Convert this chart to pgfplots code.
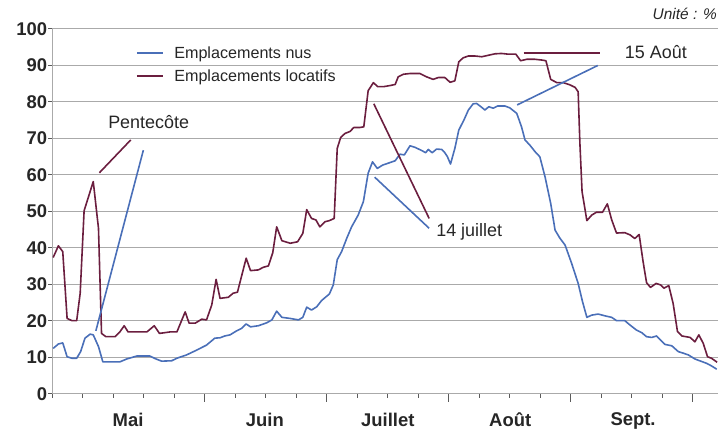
\documentclass[border=0pt]{standalone}
\usepackage{pgfplots}
\pgfplotsset{compat=1.18}
\usepackage{fontspec}
\setmainfont{Liberation Sans}
\definecolor{nus}{RGB}{74,111,184}
\definecolor{loc}{RGB}{107,30,63}
\definecolor{gridc}{RGB}{170,170,170}
\definecolor{tickc}{RGB}{90,90,90}
\definecolor{labc}{RGB}{38,38,38}

\pgfplotsset{
  common/.style={
    at={(52.3bp,36bp)}, anchor=south west, scale only axis,
    width=665.7bp, height=365bp,
    xmin=0, xmax=152.8, ymin=0, ymax=100,
  }
}

\begin{document}
\begin{tikzpicture}
\useasboundingbox (0,0) rectangle (718bp,430bp);

% long (4-week) ticks and month labels
\begin{axis}[common, hide y axis, axis x line*=bottom, x axis line style={draw=none},
  xtick={35,63,91,119,147}, xticklabels={}, tick align=outside,
  major tick length=8bp, tick style={tickc, line width=1bp}]
\end{axis}
\begin{axis}[common, hide y axis, axis x line*=bottom, x axis line style={draw=none},
  xtick={17.4,48.8,77,105.1,133.3}, xticklabels={Mai,Juin,Juillet,Août,Sept.},
  major tick length=0pt, tick style={draw=none},
  xticklabel style={font=\bfseries\fontsize{18.5}{18.5}\selectfont, text=labc, anchor=north, inner sep=0pt, yshift=-18.5bp}]
\end{axis}

\begin{axis}[common,
  axis x line*=bottom, axis y line*=left,
  x axis line style={draw=none}, y axis line style={gridc, line width=1bp, -},
  ytick={0,10,...,100}, ymajorgrids, grid style={gridc, line width=1bp},
  xtick={0,7,...,147}, xticklabels={},
  tick align=outside, major tick length=4bp, tick style={tickc, line width=1bp},
  yticklabel style={font=\bfseries\fontsize{18.5}{18.5}\selectfont, text=labc, inner xsep=1bp},
  /pgf/number format/assume math mode=true,
  clip=false,
  legend style={at={(rel axis cs:0.1253,0.958)}, anchor=north west, draw=none, fill=none,
    font=\fontsize{16.2}{16.2}\selectfont, text=labc, inner sep=0pt,
    row sep=6bp, column sep=8bp, nodes={inner sep=2bp}},
  legend cell align=left,
  legend image code/.code={\draw[#1, line width=1.8bp] (0bp,0bp) -- (26.6bp,0bp);},
]
\addplot[nus, line width=1.6bp, line join=round] coordinates {
(0.2,12.5) (1.4,13.7) (2.4,14.0) (3.4,10.2) (4.5,9.8) (5.6,9.8) (6.5,11.6) (7.5,15.3)
(8.7,16.4) (9.4,16.2) (10.6,13.0) (11.6,8.8) (13.2,8.8) (15.5,8.8) (17.1,9.6) (19.4,10.4)
(22.4,10.4) (23.8,9.6) (25.1,9.0) (27.4,9.1) (28.6,9.8) (30.8,10.7) (33.1,12.0) (35.4,13.4)
(37.3,15.3) (38.5,15.4) (39.6,15.9) (40.8,16.2) (42.3,17.3) (43.5,18.0) (44.5,19.2) (45.5,18.4)
(47.3,18.7) (49.2,19.5) (50.4,20.3) (51.5,22.7) (52.7,21.0) (54.6,20.7) (56.5,20.3) (57.5,21.0)
(58.4,23.8) (59.5,23.0) (60.7,23.9) (61.8,25.6) (63.6,27.4) (64.5,29.9) (65.4,36.8) (66.4,39.0)
(67.6,42.7) (68.7,45.8) (70.2,49.0) (71.4,52.7) (72.5,60.5) (73.5,63.6) (74.6,61.8) (75.8,62.7)
(77.5,63.4) (78.7,63.9) (79.8,65.7) (80.8,65.5) (82.1,68.0) (83.2,67.6) (84.8,66.7) (85.7,66.1)
(86.3,67.0) (87.2,66.1) (88.2,67.1) (89.4,67.0) (90.1,66.1) (90.7,65.0) (91.4,63.0) (92.4,67.3)
(93.3,72.3) (94.5,75.1) (95.5,77.8) (96.6,79.5) (97.4,79.6) (98.6,78.5) (99.3,77.8) (100.2,78.7)
(101.2,78.3) (102.2,78.9) (103.9,78.9) (105.0,78.4) (106.6,76.9) (107.7,73.2) (108.5,69.6) (109.6,68.2)
(110.8,66.4) (111.9,65.0) (113.1,59.5) (114.4,52.2) (115.4,44.9) (116.5,42.7) (117.7,40.8) (119.2,35.8)
(120.7,30.3) (121.7,25.3) (122.7,21.0) (123.8,21.6) (125.3,21.9) (126.9,21.4) (128.4,21.0) (129.5,20.1)
(131.4,20.1) (132.6,18.9) (134.1,17.5) (135.3,16.8) (136.4,15.7) (137.6,15.5) (138.7,15.9) (139.6,14.8)
(140.6,13.6) (142.2,13.2) (143.7,11.6) (144.8,11.2) (146.0,10.7) (147.5,9.6) (148.6,9.1) (150.2,8.4)
(151.3,7.7) (152.5,6.8)
};
\addlegendentry{Emplacements nus}
\addplot[loc, line width=1.6bp, line join=round] coordinates {
(0.2,37.4) (1.4,40.6) (2.4,39.0) (3.4,20.7) (4.5,20.1) (5.6,20.1) (6.4,27.6) (7.3,50.2)
(8.3,54.0) (9.4,58.2) (10.6,45.4) (11.3,16.6) (12.3,15.7) (14.4,15.7) (15.5,17.0) (16.5,18.7)
(17.4,17.0) (21.7,17.0) (23.4,18.7) (24.6,16.6) (27.0,17.0) (28.6,17.0) (30.5,22.5) (31.4,19.4)
(32.8,19.4) (34.3,20.5) (35.4,20.3) (36.6,24.4) (37.6,31.4) (38.5,26.2) (40.4,26.5) (41.5,27.6)
(42.5,27.9) (44.5,37.2) (45.5,33.8) (47.3,34.0) (48.4,34.7) (49.6,35.1) (50.6,38.7) (51.5,45.8)
(52.7,42.0) (54.6,41.3) (56.3,41.7) (57.5,44.0) (58.4,50.5) (59.5,48.1) (60.5,47.7) (61.4,45.8)
(62.6,47.2) (63.6,47.5) (64.7,48.1) (65.4,67.3) (66.2,70.3) (67.2,71.4) (68.3,71.9) (69.2,73.0)
(70.5,73.0) (71.5,73.2) (72.5,83.1) (73.7,85.3) (74.7,84.2) (76.0,84.2) (77.5,84.5) (78.7,84.8)
(79.4,86.9) (80.6,87.6) (82.1,87.8) (84.4,87.8) (85.9,86.9) (87.4,86.2) (88.6,86.7) (90.1,86.7)
(91.3,85.4) (92.4,85.8) (93.3,91.0) (94.3,92.1) (95.5,92.6) (97.0,92.6) (98.6,92.4) (100.1,92.8)
(101.6,93.2) (103.1,93.3) (104.7,93.1) (106.4,93.1) (107.5,91.3) (108.9,91.7) (110.8,91.7) (112.3,91.5)
(113.3,91.3) (114.4,86.2) (115.8,85.3) (117.3,85.3) (118.8,84.7) (120.0,84.0) (120.7,82.8) (121.1,68.7)
(121.6,55.4) (122.7,47.5) (123.8,49.0) (124.9,49.8) (126.3,49.8) (127.4,52.1) (128.4,47.7) (129.5,44.1)
(131.4,44.2) (132.6,43.6) (133.7,42.6) (134.7,43.7) (135.6,36.3) (136.4,30.5) (137.3,29.2) (138.6,30.3)
(139.6,29.9) (140.4,29.0) (141.5,29.7) (142.5,24.8) (143.5,17.1) (144.5,15.9) (146.4,15.5) (147.5,14.3)
(148.4,16.2) (149.4,13.9) (150.4,10.2) (151.3,9.8) (152.6,8.7)
};
\addlegendentry{Emplacements locatifs}

% annotation leader lines
\addplot[loc, line width=1.6bp, forget plot] coordinates {(10.8,60.6) (18.0,69.6)};
\addplot[nus, line width=1.6bp, forget plot] coordinates {(10.0,17.3) (20.9,66.8)};
\addplot[loc, line width=1.6bp, forget plot] coordinates {(73.8,79.5) (86.5,48.1)};
\addplot[nus, line width=1.6bp, forget plot] coordinates {(74.0,59.4) (86.5,45.4)};
\addplot[loc, line width=1.6bp, forget plot] coordinates {(108.2,93.5) (125.6,93.5)};
\addplot[nus, line width=1.6bp, forget plot] coordinates {(106.7,79.2) (125.2,90.0)};

\node[anchor=west, inner sep=0pt, text=labc, font=\fontsize{18}{18}\selectfont] at (axis cs:12.8,74.5) {Pentecôte};
\node[anchor=west, inner sep=0pt, text=labc, font=\fontsize{18}{18}\selectfont] at (axis cs:88.1,44.4) {14 juillet};
\node[anchor=west, inner sep=0pt, text=labc, font=\fontsize{18}{18}\selectfont] at (axis cs:131.4,93.7) {15 Août};
\end{axis}

\node[anchor=east, inner sep=0pt, text=labc, font=\itshape\fontsize{15.5}{15.5}\selectfont] at (717bp,416bp) {Unité : \%};
\end{tikzpicture}
\end{document}
